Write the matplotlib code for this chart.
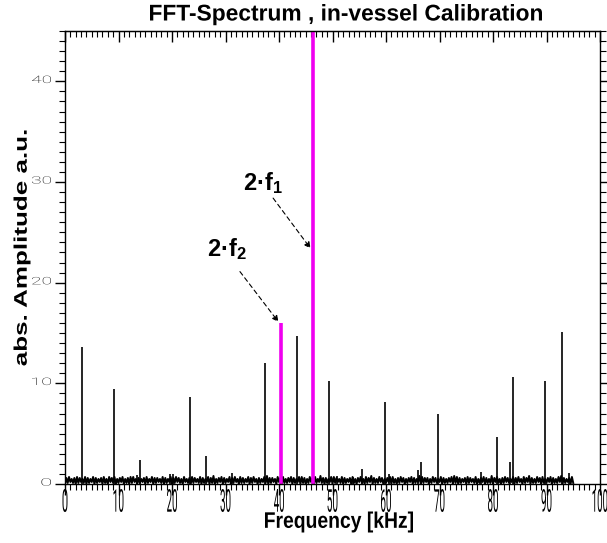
import numpy as np
import matplotlib
matplotlib.use('Agg')
import matplotlib.pyplot as plt
from matplotlib.textpath import TextPath
from matplotlib.patches import PathPatch
from matplotlib.font_manager import FontProperties
from matplotlib.transforms import Affine2D, IdentityTransform

plt.rcParams['font.family'] = ['Liberation Sans', 'DejaVu Sans']
plt.rcParams['mathtext.fontset'] = 'custom'
plt.rcParams['mathtext.bf'] = 'Liberation Sans:bold'
plt.rcParams['mathtext.rm'] = 'Liberation Sans:bold'
plt.rcParams['mathtext.default'] = 'bf'

# noise floor, one digit = amplitude in tenths, every 0.25 kHz from 0 to 95 kHz
noise_step = 0.25
noise_digits = (
    "06172516071625170615" "27061526071507261705" "16270516071725061526"
    "07152706162517061527" "06172615072516071625" "17061527061805162706"
    "15270617250716152706" "17250615271806162507" "26071516270615270716"
    "05172607152816061527" "07162517061526071506" "27150716280615172605"
    "16270715061726051627" "06152807162605172615" "27061516270817061526"
    "07162517051627061518" "06271506172615270617" "25071628061517260715"
    "16270615172806152607" "1"
)
noise_amp = [int(c) / 10 for c in noise_digits]
noise_freq = np.arange(len(noise_amp)) * noise_step

# spectral lines (kHz, a.u.)
peak_freq = [3.1, 9.2, 13.5, 14.1, 19.6, 20.2, 23.3, 26.3, 31.3, 37.3, 43.4, 49.4,
             50.8, 53.9, 55.5, 59.9, 60.6, 65.9, 66.6, 69.7, 77.8, 80.7, 83.1,
             83.7, 89.8, 92.9, 94.2]
peak_amp = [13.6, 9.4, 0.9, 2.4, 1.0, 1.0, 8.6, 2.8, 1.1, 12.0, 14.7, 10.2,
            0.8, 0.7, 1.5, 8.1, 1.0, 1.4, 2.2, 7.0, 1.2, 4.7, 2.2,
            10.6, 10.2, 15.1, 1.1]

# the two marked harmonics 2*f2 and 2*f1
harm_freq = [40.3, 46.4]
harm_amp = [16.0, 60.0]
harm_names = [r'2·f$_2$', r'2·f$_1$']
harm_text_pos = [(26.5, 22.6), (33.3, 29.2)]
harm_arrow_from = [(32.7, 21.1), (38.9, 28.4)]
harm_arrow_to = [(39.9, 16.1), (45.9, 23.4)]

xtick_vals = list(range(0, 101, 10))
ytick_vals = [0, 10, 20, 30, 40]

W, H = 607, 543
fig = plt.figure(figsize=(W / 100, H / 100), dpi=100)
ax = fig.add_axes([65 / W, 1 - 484 / H, 535 / W, 453 / H])

ax.plot(noise_freq, noise_amp, color='black', lw=1.4)
ax.vlines(peak_freq, 0, peak_amp, color='black', lw=1.2)
ax.vlines(harm_freq, 0, harm_amp, color='#f000f0', lw=2.6)

for name, tp, a0, a1 in zip(harm_names, harm_text_pos, harm_arrow_from, harm_arrow_to):
    ax.text(tp[0], tp[1], name, fontsize=17, fontweight='bold', ha='left', va='baseline')
    ax.annotate('', xy=a1, xytext=a0,
                arrowprops=dict(arrowstyle='-|>', linestyle=(0, (4, 3)), lw=0.8,
                                color='black', mutation_scale=9, shrinkA=0, shrinkB=0))

ax.set_xlim(0, 100)
ax.set_ylim(0, 45)
ax.set_xticks(xtick_vals)
ax.set_xticks(np.arange(0, 101, 1), minor=True)
ax.set_yticks(ytick_vals)
ax.set_yticks(np.arange(0, 46, 1), minor=True)
ax.tick_params(axis='x', which='major', direction='out', length=8, width=1, labelbottom=False)
ax.tick_params(axis='x', which='minor', direction='out', length=4, width=0.8)
ax.tick_params(axis='y', which='major', direction='out', length=7, width=1,
               right=True, labelleft=False)
ax.tick_params(axis='y', which='minor', direction='out', length=4, width=0.8, right=True)
for s in ax.spines.values():
    s.set_linewidth(1.0)

top = ax.secondary_xaxis('top')
top.set_xticks(xtick_vals)
top.set_xticks(np.arange(0, 101, 1), minor=True)
top.tick_params(axis='x', which='major', direction='in', length=8, width=1, labeltop=False)
top.tick_params(axis='x', which='minor', direction='in', length=4, width=0.8)


def stretched(s, cx, cy, width, height, prop, angle=0, ha='center', va='center'):
    # draw text squeezed/stretched to a box of given pixel size
    tp = TextPath((0, 0), s, size=100, prop=prop)
    bb = tp.get_extents()
    sx = width / bb.width if width else None
    sy = height / bb.height if height else None
    if sx is None:
        sx = sy
    if sy is None:
        sy = sx
    x0 = {'center': bb.x0 + bb.width / 2, 'left': bb.x0, 'right': bb.x1}[ha]
    y0 = {'center': bb.y0 + bb.height / 2, 'top': bb.y1, 'bottom': bb.y0}[va]
    tr = Affine2D().translate(-x0, -y0).scale(sx, sy).rotate_deg(angle).translate(cx, cy)
    fig.add_artist(PathPatch(tr.transform_path(tp), transform=IdentityTransform(),
                             fc='black', lw=0))


thin = FontProperties(family='Roboto', weight='normal')
light = FontProperties(family='Roboto', weight='light')
bold = FontProperties(family='Liberation Sans', weight='bold')

for v in xtick_vals:
    px, py = ax.transData.transform((v, 0))
    n = len(str(v))
    stretched(str(v), px, py - 5, 5.0 * n, 23, thin, va='top')

for v in ytick_vals:
    px, py = ax.transData.transform((0, v))
    n = len(str(v))
    stretched(str(v), 51, py + 2, 9.5 * n, 7.5, light, ha='right')

stretched('FFT-Spectrum , in-vessel Calibration', 346, H - 4, 392, None, bold, va='top')
stretched('Frequency [kHz]', 339, H - 522, 148, 21, bold)
stretched('abs. Amplitude a.u.', 22, H - 248, 235, 17, bold, angle=90)

fig.savefig('out.png', dpi=100)
